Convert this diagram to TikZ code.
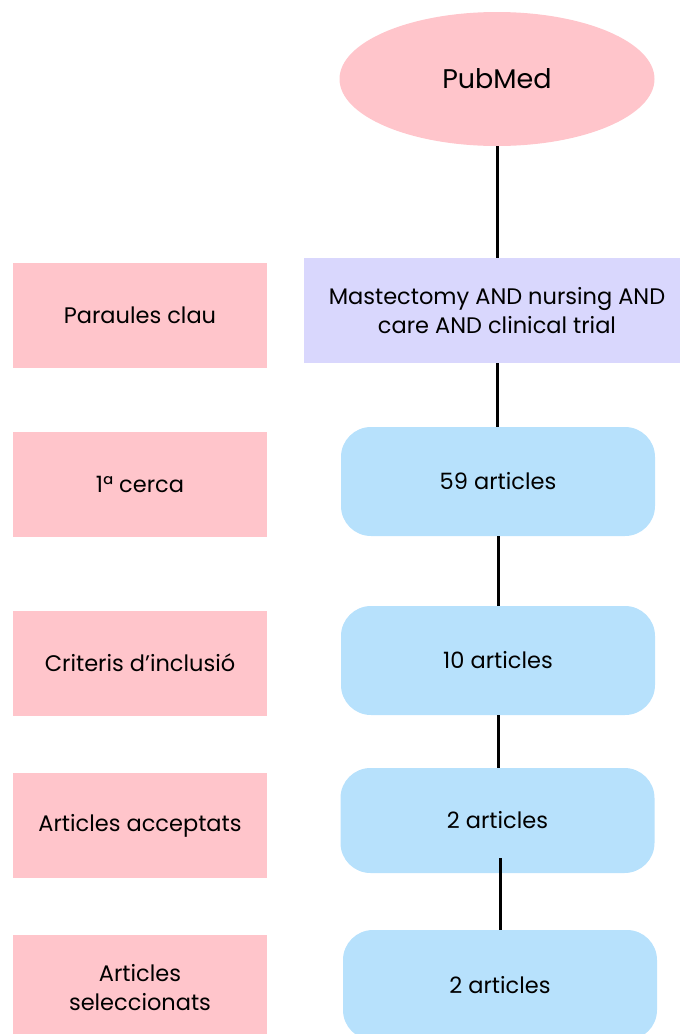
\documentclass[tikz,border=0pt]{standalone}
\usepackage{fontspec}
\setmainfont{Poppins}
\usetikzlibrary{shapes.geometric}
\definecolor{pinkc}{HTML}{FFC5CB}
\definecolor{purplec}{HTML}{D9D7FD}
\definecolor{bluec}{HTML}{B7E1FC}
\begin{document}
\begin{tikzpicture}[x=1pt,y=-1pt,
  txt/.style={font=\fontsize{22.5}{29}\selectfont, align=center, text=black},
  leftbox/.style={fill=pinkc, minimum width=254pt, minimum height=105pt, inner sep=0pt, txt},
  bluebox/.style={fill=bluec, rounded corners=30pt, minimum width=314pt, minimum height=109pt, inner sep=0pt, txt},
  conn/.style={line width=3pt, black}]
\useasboundingbox (0,0) rectangle (680,1034);
\clip (0,0) rectangle (680,1034);
\node[ellipse, fill=pinkc, minimum width=315pt, minimum height=134pt, inner sep=0pt, font=\fontsize{27}{32}\selectfont] (pub) at (497,79) {PubMed};
\node[fill=purplec, minimum width=386pt, minimum height=105pt, inner sep=0pt, txt] (kw) at (497,310.5) {Mastectomy AND nursing AND\\care AND clinical trial};
\node[bluebox] (b1) at (498,481.5) {59 articles};
\node[bluebox] (b2) at (498,660.5) {10 articles};
\node[bluebox, minimum height=105pt] (b3) at (497.5,820.5) {2 articles};
\node[bluebox, minimum height=110pt] (b4) at (500,985) {2 articles};
\node[leftbox] (l1) at (140,315.5) {Paraules clau};
\node[leftbox] (l2) at (140,484.5) {1ª cerca};
\node[leftbox] (l3) at (140,663) {Criteris d’inclusió};
\node[leftbox] (l4) at (140,825.5) {Articles acceptats};
\node[leftbox] (l5) at (140,987.5) {Articles\\seleccionats};
\draw[conn] (pub.south) -- (kw.north);
\draw[conn] (kw.south) -- (kw.south |- b1.north);
\draw[conn] (b1.south) -- (b1.south |- b2.north);
\draw[conn] (b2.south) -- (b2.south |- b3.north);
\coordinate (c3) at ([yshift=15pt]b3.south);
\draw[conn] (c3 -| b4.north) -- (b4.north);
\end{tikzpicture}
\end{document}
